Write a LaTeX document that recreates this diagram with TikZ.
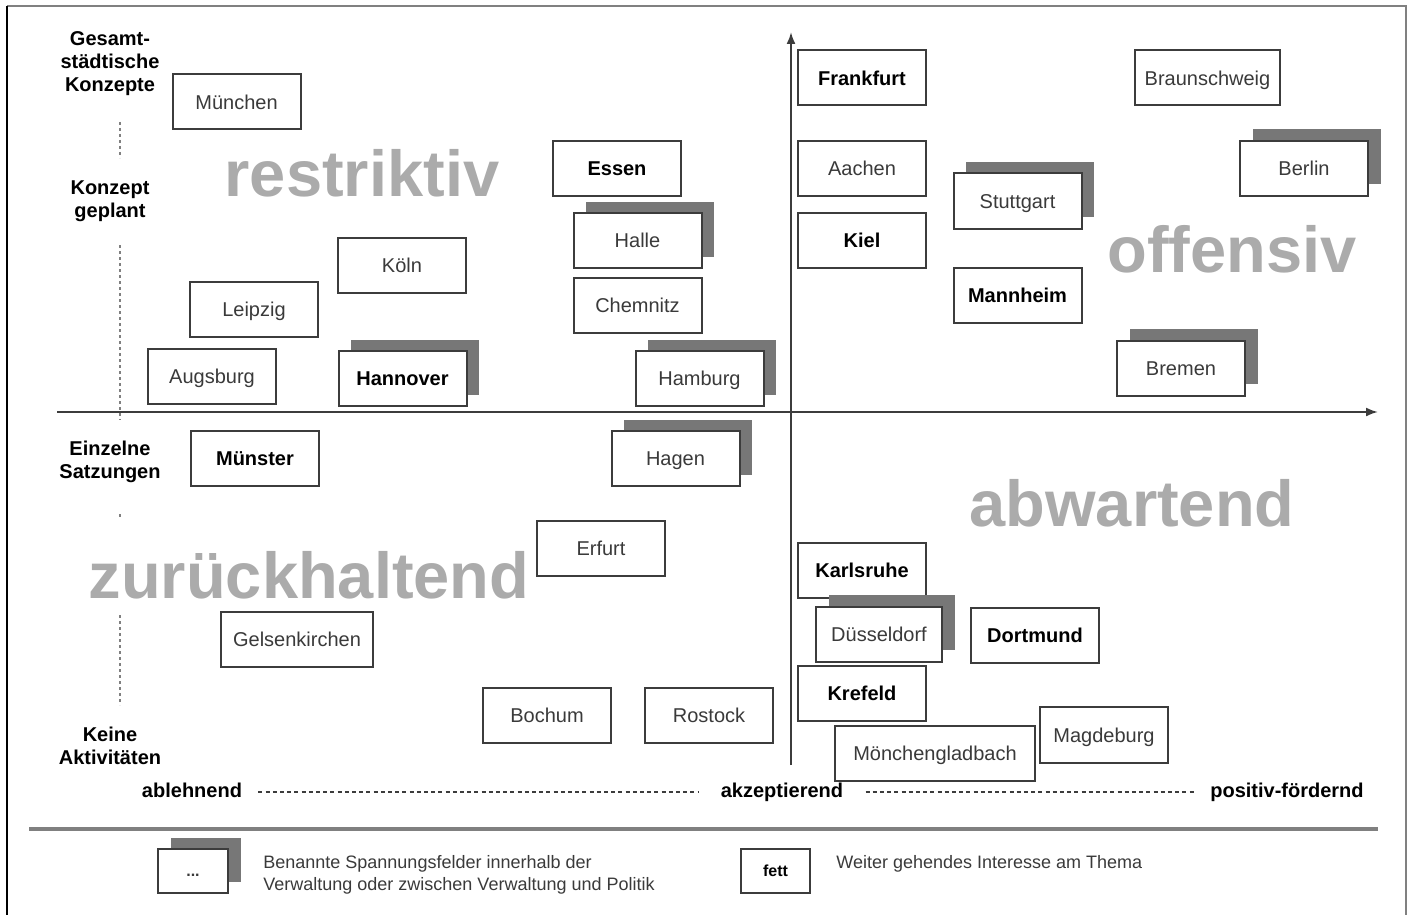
\documentclass[tikz,border=0pt]{standalone}
\usepackage{fontspec}
\setmainfont{Liberation Sans}
\usetikzlibrary{arrows.meta,shadows}
\definecolor{boxline}{HTML}{3C3C3C}
\definecolor{shadowgray}{HTML}{777777}
\definecolor{bigtext}{HTML}{ABABAB}
\definecolor{regtext}{HTML}{3A3A3A}
\tikzset{
  city/.style={draw=boxline, line width=1pt, fill=white, minimum width=64pt,
    minimum height=27.5pt, inner sep=0pt, text height=8.3pt, text depth=1.2pt,
    font=\fontsize{10}{12}\selectfont, text=regtext},
  citybold/.style={city, font=\fontsize{10}{12}\selectfont\bfseries, text=black},
  shad/.style={drop shadow={shadow xshift=6.25pt, shadow yshift=5.75pt, fill=shadowgray, opacity=1}},
  quadrant/.style={font=\fontsize{32.5}{36}\selectfont\bfseries, text=bigtext, anchor=base, inner sep=0pt},
  sidelabel/.style={font=\fontsize{10}{11.5}\selectfont\bfseries, align=center, inner sep=0pt},
  axislabel/.style={font=\fontsize{10}{12}\selectfont\bfseries, inner sep=0pt, text height=7.4pt, text depth=2pt},
  axisline/.style={draw=boxline, line width=1pt},
  dotline/.style={draw=gray, line width=1.3pt, dash pattern=on 1.4pt off 1.6pt},
  dashline/.style={draw=boxline, line width=0.6pt, dash pattern=on 2pt off 1.6pt},
  legendtext/.style={font=\fontsize{9}{11}\selectfont, text=regtext, align=left, anchor=west, inner sep=0pt},
}
\begin{document}
\begin{tikzpicture}[x=0.5pt,y=-0.5pt]
\useasboundingbox (0,0) rectangle (1409,915);
% frame
\draw[gray, line width=1pt] (7,6) -- (1406,6) -- (1406,915);
\draw[black, line width=1pt] (7,6) -- (7,915);

% axes
\coordinate (xstart) at (57,412);
\coordinate (xend) at (1378,412);
\coordinate (ystart) at (791,765);
\coordinate (yend) at (791,32);
\draw[axisline, -{Latex[length=6pt,width=4.5pt]}] (xstart) -- (xend);
\draw[axisline, -{Latex[length=6pt,width=4.5pt]}] (ystart) -- (yend);

% separator
\coordinate (sepL) at (29,829);
\coordinate (sepR) at (1378,829);
\draw[draw=gray, line width=1.6pt] (sepL) -- (sepR);

% quadrant labels
\node[quadrant] (restr) at (362,197) {restriktiv};
\node[quadrant] (offen) at (1232,272) {offensiv};
\node[quadrant] (abw) at (1132,526) {abwartend};
\node[quadrant] (zur) at (309,598) {zurückhaltend};

% side labels
\node[sidelabel] (gesamt) at (110,64) {Gesamt-\\städtische\\Konzepte};
\node[sidelabel] (geplant) at (110,201) {Konzept\\geplant};
\node[sidelabel] (einzeln) at (110,462) {Einzelne\\Satzungen};
\node[sidelabel] (keine) at (110,746) {Keine\\Aktivitäten};

% dotted vertical scale
\coordinate (d1a) at (120,122); \coordinate (d1b) at (120,158);
\coordinate (d2a) at (120,245); \coordinate (d2b) at (120,420);
\coordinate (d3a) at (120,514); \coordinate (d3b) at (120,518);
\coordinate (d4a) at (120,615); \coordinate (d4b) at (120,705);
\draw[dotline] (d1a) -- (d1b);
\draw[dotline] (d2a) -- (d2b);
\draw[dotline] (d3a) -- (d3b);
\draw[dotline] (d4a) -- (d4b);

% bottom axis labels
\node[axislabel] (abl) at (192,792) {ablehnend};
\node[axislabel] (akz) at (782,792) {akzeptierend};
\node[axislabel] (pos) at (1287,792) {positiv-fördernd};
\draw[dashline] ([xshift=8pt]abl.east) -- ([xshift=-11pt]akz.west);
\draw[dashline] ([xshift=11pt]akz.east) -- ([xshift=-7pt]pos.west);

% cities - upper left
\node[city] (muenchen) at (236.5,102) {München};
\node[citybold] (essen) at (617,168.5) {Essen};
\node[city, shad] (halle) at (637.5,240.5) {Halle};
\node[city] (chemnitz) at (637.5,305.5) {Chemnitz};
\node[city, shad] (hamburg) at (699.5,378.5) {Hamburg};
\node[city] (koeln) at (402,265.5) {Köln};
\node[city] (leipzig) at (254,309.5) {Leipzig};
\node[city] (augsburg) at (212,376.5) {Augsburg};
\node[citybold, shad] (hannover) at (402.5,378.5) {Hannover};

% upper right
\node[citybold] (frankfurt) at (862,78) {Frankfurt};
\node[city] (aachen) at (862,168.5) {Aachen};
\node[citybold] (kiel) at (862,240.5) {Kiel};
\node[city, shad] (stuttgart) at (1017.5,201) {Stuttgart};
\node[citybold] (mannheim) at (1017.5,295.5) {Mannheim};
\node[city, minimum width=72.5pt] (braunschweig) at (1207.5,78) {Braunschweig};
\node[city, shad] (berlin) at (1304,168.5) {Berlin};
\node[city, shad] (bremen) at (1181,368) {Bremen};

% lower left
\node[citybold] (muenster) at (255,458.5) {Münster};
\node[city, shad] (hagen) at (675.5,458.5) {Hagen};
\node[city] (erfurt) at (601,548.5) {Erfurt};
\node[city, minimum width=76pt] (gelsen) at (297,639.5) {Gelsenkirchen};
\node[city] (bochum) at (547,715.5) {Bochum};
\node[city] (rostock) at (709,715.5) {Rostock};

% lower right
\node[citybold] (karlsruhe) at (862,570.5) {Karlsruhe};
\node[city, shad, minimum width=63pt] (duesseldorf) at (879,634) {Düsseldorf};
\node[citybold] (dortmund) at (1035,635) {Dortmund};
\node[citybold] (krefeld) at (862,693) {Krefeld};
\node[city, minimum width=100pt] (mgladbach) at (935,753.5) {Mönchengladbach};
\node[city, minimum height=28pt] (magdeburg) at (1104,735) {Magdeburg};

% legend
\node[city, shad, minimum width=35pt, minimum height=22pt, text height=5pt, text depth=0pt, font=\fontsize{8}{10}\selectfont\bfseries] (legshadow) at (193,871) {...};
\node[legendtext] (legtext1) at (263,875) {Benannte Spannungsfelder innerhalb der\\Verwaltung oder zwischen Verwaltung und Politik};
\node[citybold, minimum width=34.5pt, minimum height=22pt, text height=5.8pt, text depth=0pt, font=\fontsize{8}{10}\selectfont\bfseries] (legbold) at (775.5,871) {fett};
\node[legendtext] (legtext2) at (836,864) {Weiter gehendes Interesse am Thema};
\end{tikzpicture}
\end{document}
